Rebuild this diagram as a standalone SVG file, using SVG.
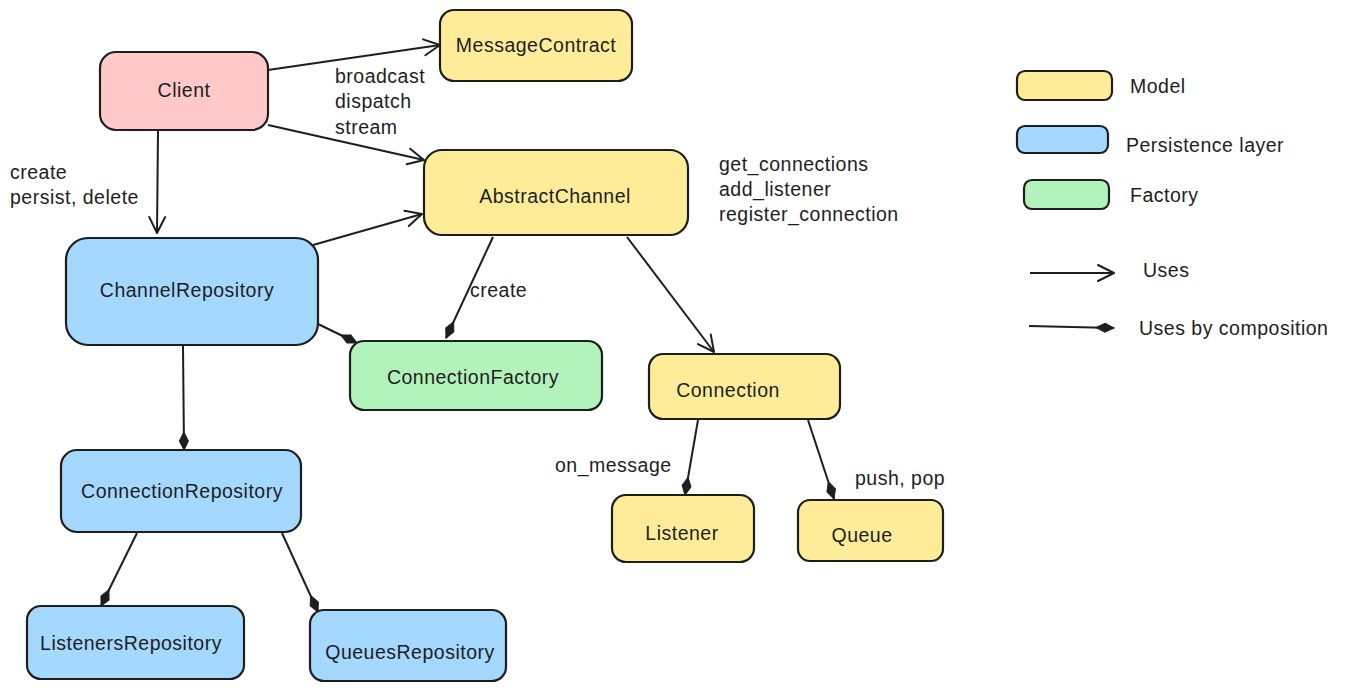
<svg xmlns="http://www.w3.org/2000/svg" width="1347" height="691" viewBox="0 0 1347 691">
<defs>
<style>
.box{stroke:#1e1e1e;stroke-width:2.2}
.model{fill:#ffec99}
.pers{fill:#a5d8ff}
.fact{fill:#b2f2bb}
.client{fill:#ffc9c9}
text{font-family:"Liberation Sans","DejaVu Sans",sans-serif;font-size:19.5px;letter-spacing:0.5px;fill:#1e1e1e}
.c{text-anchor:middle;dominant-baseline:central}
.l{dominant-baseline:central}
.edge{stroke:#1e1e1e;stroke-width:2;fill:none}
.uses{marker-end:url(#arrow)}
.comp{marker-end:url(#diamond)}
</style>
<marker id="arrow" viewBox="-18 -10 20 20" refX="0" refY="0" markerWidth="20" markerHeight="20" markerUnits="userSpaceOnUse" orient="auto">
<path d="M-16,-8 L0,0 L-16,8" fill="none" stroke="#1e1e1e" stroke-width="2" stroke-linecap="round" stroke-linejoin="round"/>
</marker>
<marker id="diamond" viewBox="-20 -6 22 12" refX="0" refY="0" markerWidth="22" markerHeight="12" markerUnits="userSpaceOnUse" orient="auto">
<path d="M0,0 L-9,-4.5 L-18,0 L-9,4.5 Z" fill="#1e1e1e" stroke="#1e1e1e" stroke-width="1"/>
</marker>
</defs>
<rect width="1347" height="691" fill="#ffffff"/>

<g id="connectors">
<line class="edge uses" x1="268" y1="70" x2="440" y2="45"/>
<line class="edge uses" x1="268" y1="125" x2="424" y2="160"/>
<line class="edge uses" x1="158" y1="131" x2="157" y2="233"/>
<line class="edge uses" x1="313" y1="245" x2="422" y2="214"/>
<line class="edge comp" x1="493" y1="237" x2="446" y2="338"/>
<line class="edge comp" x1="316" y1="323" x2="357" y2="343"/>
<line class="edge uses" x1="627" y1="237" x2="714" y2="352"/>
<line class="edge comp" x1="698" y1="420" x2="685" y2="495"/>
<line class="edge comp" x1="808" y1="420" x2="834" y2="499"/>
<line class="edge comp" x1="183" y1="346" x2="184" y2="450"/>
<line class="edge comp" x1="137" y1="533" x2="101" y2="606"/>
<line class="edge comp" x1="282" y1="533" x2="318" y2="612"/>
<text x="335" y="76" class="l">broadcast</text>
<text x="335" y="101" class="l">dispatch</text>
<text x="335" y="127" class="l">stream</text>
<text x="10" y="172" class="l">create</text>
<text x="10" y="197" class="l">persist, delete</text>
<text x="470" y="290" class="l">create</text>
<text x="719" y="164" class="l">get_connections</text>
<text x="719" y="189" class="l">add_listener</text>
<text x="719" y="214" class="l">register_connection</text>
<text x="555" y="465" class="l">on_message</text>
<text x="855" y="478" class="l">push, pop</text>
</g>

<g id="client"><rect class="box client" x="100" y="52" width="168" height="78" rx="16"/><text x="184" y="90" class="c">Client</text></g>
<g id="messagecontract"><rect class="box model" x="440" y="10" width="192" height="71" rx="14"/><text x="536" y="45" class="c">MessageContract</text></g>
<g id="abstractchannel"><rect class="box model" x="424" y="150" width="264" height="85" rx="18"/><text x="555" y="196" class="c">AbstractChannel</text></g>
<g id="channelrepository"><rect class="box pers" x="66" y="238" width="252" height="107" rx="22"/><text x="187" y="290" class="c">ChannelRepository</text></g>
<g id="connectionfactory"><rect class="box fact" x="350" y="341" width="252" height="69" rx="14"/><text x="473" y="377" class="c">ConnectionFactory</text></g>
<g id="connection"><rect class="box model" x="649" y="354" width="191" height="65" rx="14"/><text x="728" y="390" class="c">Connection</text></g>
<g id="connectionrepository"><rect class="box pers" x="61" y="450" width="240" height="82" rx="16"/><text x="182" y="491" class="c">ConnectionRepository</text></g>
<g id="listenersrepository"><rect class="box pers" x="27" y="606" width="217" height="73" rx="14"/><text x="131" y="643" class="c">ListenersRepository</text></g>
<g id="queuesrepository"><rect class="box pers" x="310" y="610" width="196" height="71" rx="14"/><text x="410" y="652" class="c">QueuesRepository</text></g>
<g id="listener"><rect class="box model" x="612" y="495" width="142" height="67" rx="14"/><text x="682" y="533" class="c">Listener</text></g>
<g id="queue"><rect class="box model" x="798" y="500" width="145" height="61" rx="12"/><text x="862" y="535" class="c">Queue</text></g>

<g id="legend">
<rect class="box model" x="1017" y="71" width="95" height="29" rx="8"/><text x="1130" y="86" class="l">Model</text>
<rect class="box pers" x="1017" y="126" width="91" height="27" rx="8"/><text x="1126" y="145" class="l">Persistence layer</text>
<rect class="box fact" x="1024" y="180" width="85" height="29" rx="8"/><text x="1130" y="195" class="l">Factory</text>
<line class="edge uses" x1="1030" y1="273" x2="1114" y2="273"/><text x="1143" y="270" class="l">Uses</text>
<line class="edge comp" x1="1029" y1="326" x2="1114" y2="328"/><text x="1139" y="328" class="l">Uses by composition</text>
</g>
</svg>
